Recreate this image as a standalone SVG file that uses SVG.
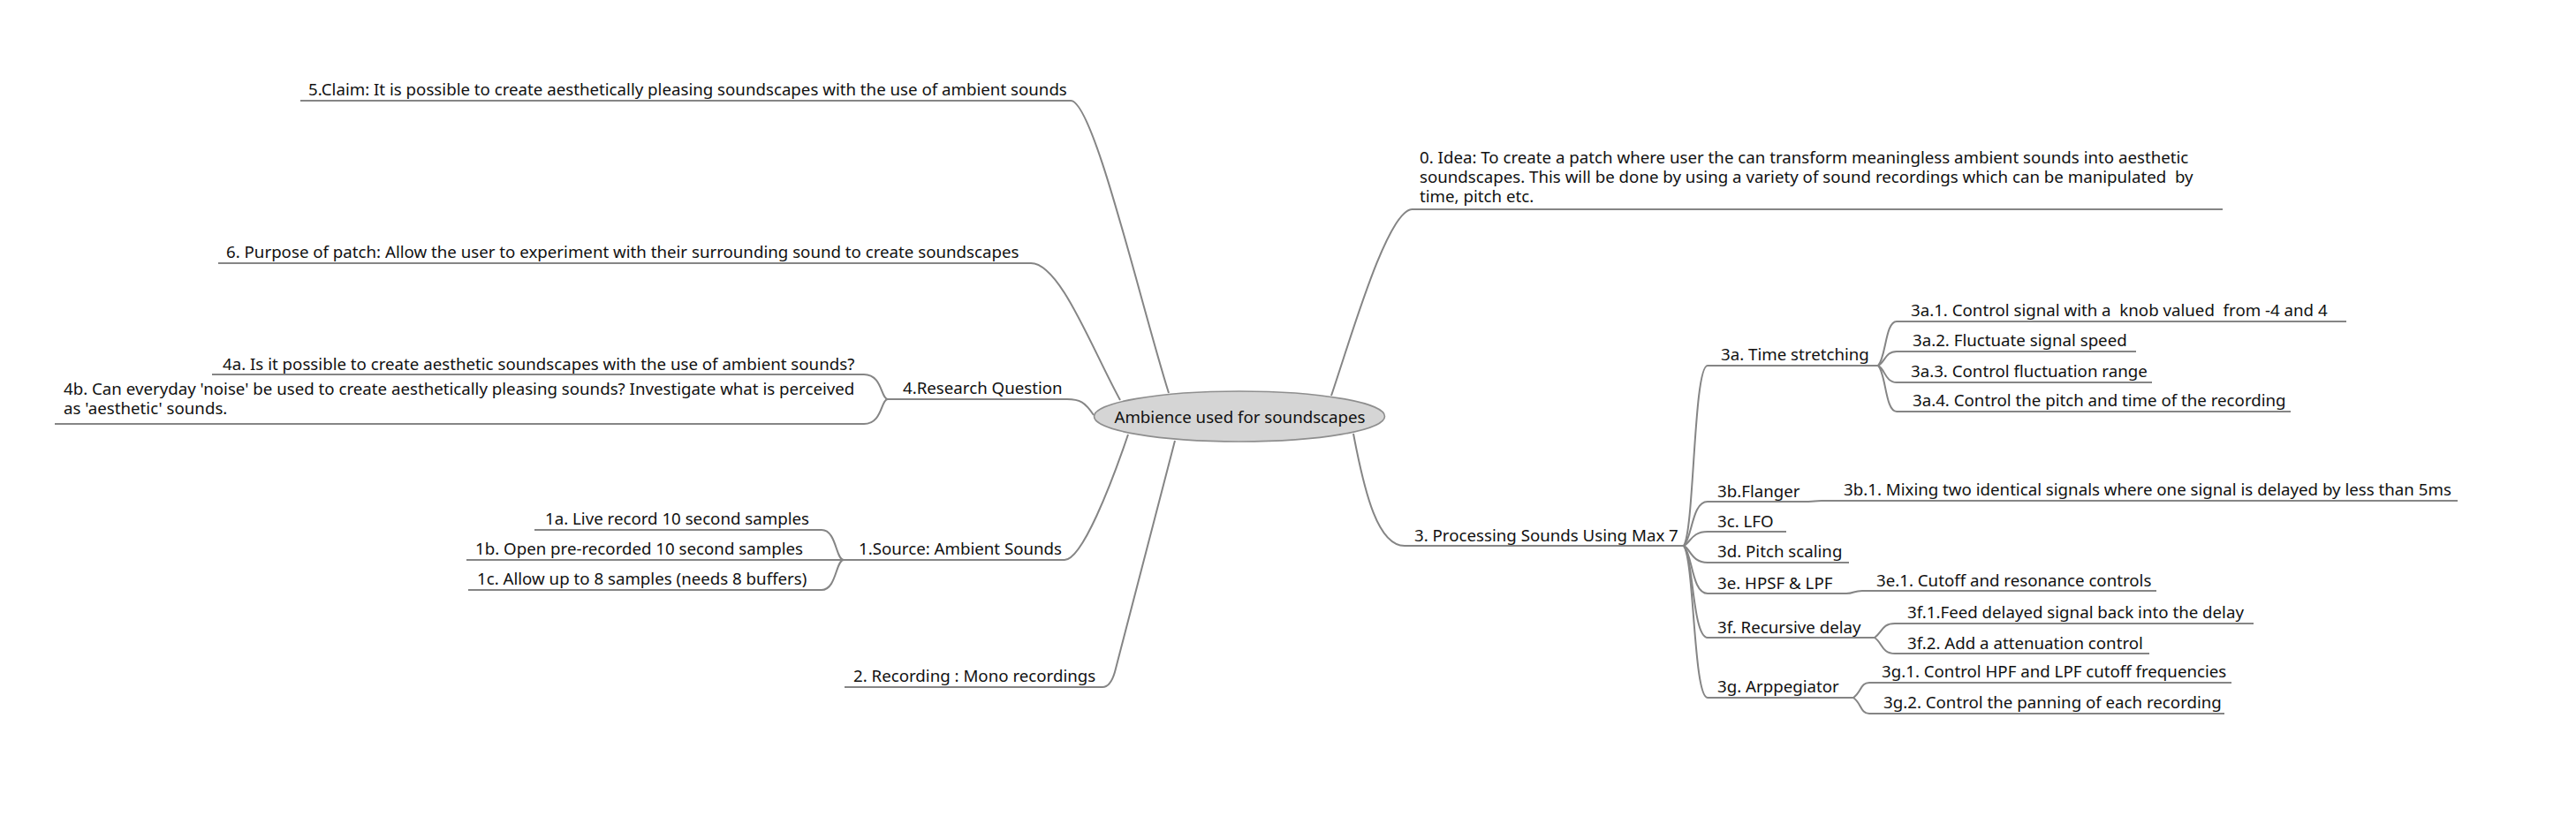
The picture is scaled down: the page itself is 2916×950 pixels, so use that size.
<svg xmlns="http://www.w3.org/2000/svg" width="2916" height="950" viewBox="0 0 2916 950">
<style>
text{font-family:"Noto Sans","DejaVu Sans",sans-serif;font-size:18.7px;fill:#111;}
.ul{stroke:#858585;stroke-width:2;fill:none;}
.cn{stroke:#858585;stroke-width:2;fill:none;}
.root{fill:#d5d5d5;stroke:#8e8e8e;stroke-width:1.6;}
</style>
<rect width="2916" height="950" fill="#fff"/>
<g id="connectors">
<path class="cn" d="M1507 448 C1530 380 1570 240 1598 237"/>
<path class="cn" d="M1323 445 C1290 340 1238 114 1212 114"/>
<path class="cn" d="M1268 453 C1236 395 1200 298 1167 298"/>
<path class="cn" d="M1238 470 C1228 455 1222 452 1208 452"/>
<path class="cn" d="M1277 492 C1258 548 1225 634 1205 634"/>
<path class="cn" d="M1330 499 L1263 757 Q1258 778 1248 778"/>
<path class="cn" d="M1532 491 C1545 560 1560 618 1590 618"/>
<path class="cn" d="M1005 452 C997 452 999 424 978 424"/>
<path class="cn" d="M1005 452 C997 452 999 480 978 480"/>
<path class="cn" d="M955 634 C946 634 947 600 930 600"/>
<path class="cn" d="M955 634 L930 634"/>
<path class="cn" d="M955 634 C946 634 947 668 930 668"/>
<path class="cn" d="M1906 618 C1918 600 1917 414 1933 414"/>
<path class="cn" d="M1906 618 C1916 608 1915 568 1933 568"/>
<path class="cn" d="M1906 618 C1914 614 1915 602 1933 602"/>
<path class="cn" d="M1906 618 C1914 622 1915 637 1933 637"/>
<path class="cn" d="M1906 618 C1916 628 1915 672 1933 672"/>
<path class="cn" d="M1906 618 C1917 632 1916 722 1933 722"/>
<path class="cn" d="M1906 618 C1918 636 1917 790 1933 790"/>
<path class="cn" d="M2126 414 C2135 405 2134 364 2147 364"/>
<path class="cn" d="M2126 414 C2134 410 2134 398 2147 398"/>
<path class="cn" d="M2126 414 C2134 418 2134 433 2147 433"/>
<path class="cn" d="M2126 414 C2135 423 2134 466 2147 466"/>
<path class="cn" d="M2047 568 C2055 568 2053 567 2062 567"/>
<path class="cn" d="M2090 672 C2099 672 2098 669 2108 669"/>
<path class="cn" d="M2122 722 C2131 716 2130 706 2145 706"/>
<path class="cn" d="M2122 722 C2131 728 2130 740 2145 740"/>
<path class="cn" d="M2098 790 C2107 784 2106 773 2116 773"/>
<path class="cn" d="M2098 790 C2107 796 2106 808 2116 808"/>
</g>
<g id="root">
<ellipse class="root" cx="1403" cy="471.5" rx="164.5" ry="28.5"/>
<text x="1403.5" y="479" text-anchor="middle">Ambience used for soundscapes</text>
</g>
<g id="n0"><line class="ul" x1="1598" y1="237" x2="2516" y2="237"/>
<text x="1607" y="185" xml:space="preserve">0. Idea: To create a patch where user the can transform meaningless ambient sounds into aesthetic</text>
<text x="1607" y="207" xml:space="preserve">soundscapes. This will be done by using a variety of sound recordings which can be manipulated  by</text>
<text x="1607" y="229">time, pitch etc.</text></g>
<g id="n5"><line class="ul" x1="340" y1="114" x2="1212" y2="114"/><text x="349" y="108">5.Claim: It is possible to create aesthetically pleasing soundscapes with the use of ambient sounds</text></g>
<g id="n6"><line class="ul" x1="247" y1="298" x2="1167" y2="298"/><text x="256" y="292">6. Purpose of patch: Allow the user to experiment with their surrounding sound to create soundscapes</text></g>
<g id="n4"><line class="ul" x1="1005" y1="452" x2="1208" y2="452"/><text x="1022" y="446">4.Research Question</text></g>
<g id="n4a"><line class="ul" x1="240" y1="424" x2="978" y2="424"/><text x="252" y="419">4a. Is it possible to create aesthetic soundscapes with the use of ambient sounds?</text></g>
<g id="n4b"><line class="ul" x1="62" y1="480" x2="978" y2="480"/><text x="72" y="447">4b. Can everyday 'noise' be used to create aesthetically pleasing sounds? Investigate what is perceived</text><text x="72" y="469">as 'aesthetic' sounds.</text></g>
<g id="n1"><line class="ul" x1="955" y1="634" x2="1205" y2="634"/><text x="972" y="628">1.Source: Ambient Sounds</text></g>
<g id="n1a"><line class="ul" x1="605" y1="600" x2="930" y2="600"/><text x="617" y="594">1a. Live record 10 second samples</text></g>
<g id="n1b"><line class="ul" x1="528" y1="634" x2="930" y2="634"/><text x="538" y="628">1b. Open pre-recorded 10 second samples</text></g>
<g id="n1c"><line class="ul" x1="530" y1="668" x2="930" y2="668"/><text x="540" y="662">1c. Allow up to 8 samples (needs 8 buffers)</text></g>
<g id="n2"><line class="ul" x1="956" y1="778" x2="1248" y2="778"/><text x="966" y="772">2. Recording : Mono recordings</text></g>
<g id="n3"><line class="ul" x1="1590" y1="618" x2="1906" y2="618"/><text x="1601" y="613">3. Processing Sounds Using Max 7</text></g>
<g id="n3a"><line class="ul" x1="1933" y1="414" x2="2126" y2="414"/><text x="1948" y="408">3a. Time stretching</text></g>
<g id="n3a1"><line class="ul" x1="2147" y1="364" x2="2656" y2="364"/><text x="2163" y="358" xml:space="preserve">3a.1. Control signal with a  knob valued  from -4 and 4</text></g>
<g id="n3a2"><line class="ul" x1="2147" y1="398" x2="2418" y2="398"/><text x="2165" y="392">3a.2. Fluctuate signal speed</text></g>
<g id="n3a3"><line class="ul" x1="2147" y1="433" x2="2436" y2="433"/><text x="2163" y="427">3a.3. Control fluctuation range</text></g>
<g id="n3a4"><line class="ul" x1="2147" y1="466" x2="2593" y2="466"/><text x="2165" y="460">3a.4. Control the pitch and time of the recording</text></g>
<g id="n3b"><line class="ul" x1="1933" y1="568" x2="2047" y2="568"/><text x="1944" y="563">3b.Flanger</text></g>
<g id="n3b1"><line class="ul" x1="2062" y1="567" x2="2782" y2="567"/><text x="2087" y="561">3b.1. Mixing two identical signals where one signal is delayed by less than 5ms</text></g>
<g id="n3c"><line class="ul" x1="1933" y1="602" x2="2022" y2="602"/><text x="1944" y="597">3c. LFO</text></g>
<g id="n3d"><line class="ul" x1="1933" y1="637" x2="2093" y2="637"/><text x="1944" y="631">3d. Pitch scaling</text></g>
<g id="n3e"><line class="ul" x1="1933" y1="672" x2="2090" y2="672"/><text x="1944" y="667">3e. HPSF &amp; LPF</text></g>
<g id="n3e1"><line class="ul" x1="2108" y1="669" x2="2441" y2="669"/><text x="2124" y="664">3e.1. Cutoff and resonance controls</text></g>
<g id="n3f"><line class="ul" x1="1933" y1="722" x2="2122" y2="722"/><text x="1944" y="717">3f. Recursive delay</text></g>
<g id="n3f1"><line class="ul" x1="2145" y1="706" x2="2551" y2="706"/><text x="2159" y="700">3f.1.Feed delayed signal back into the delay</text></g>
<g id="n3f2"><line class="ul" x1="2145" y1="740" x2="2433" y2="740"/><text x="2159" y="735">3f.2. Add a attenuation control</text></g>
<g id="n3g"><line class="ul" x1="1933" y1="790" x2="2098" y2="790"/><text x="1944" y="784">3g. Arppegiator</text></g>
<g id="n3g1"><line class="ul" x1="2116" y1="773" x2="2526" y2="773"/><text x="2130" y="767">3g.1. Control HPF and LPF cutoff frequencies</text></g>
<g id="n3g2"><line class="ul" x1="2116" y1="808" x2="2518" y2="808"/><text x="2132" y="802">3g.2. Control the panning of each recording</text></g>
</svg>
